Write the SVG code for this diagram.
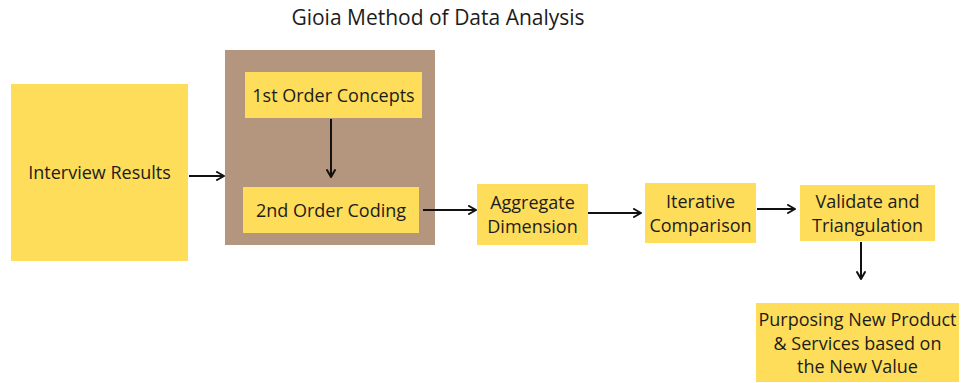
<svg xmlns="http://www.w3.org/2000/svg" width="961" height="383" viewBox="0 0 961 383">
  <defs>
    <marker id="arrow" viewBox="0 0 10 10" refX="9" refY="5" markerWidth="10" markerHeight="10" markerUnits="userSpaceOnUse" orient="auto">
      <path d="M2,1 L9,5 L2,9" fill="none" stroke="#111" stroke-width="2" stroke-linecap="round" stroke-linejoin="round"/>
    </marker>
  </defs>
  <style>
    .box { fill: #fedd5a; }
    .group { fill: #b3967d; }
    .label { font-family: "Open Sans", "Liberation Sans", sans-serif; font-size: 18px; fill: #1c1c1c; text-anchor: middle; }
    .title { font-family: "Open Sans", "Liberation Sans", sans-serif; font-size: 21px; fill: #1c1c1c; text-anchor: middle; }
    .edge { stroke: #111; stroke-width: 2; fill: none; marker-end: url(#arrow); }
  </style>
  <rect width="961" height="383" fill="#ffffff"/>

  <text class="title" x="438" y="25">Gioia Method of Data Analysis</text>

  <g id="interview-results">
    <rect class="box" x="11" y="84" width="177" height="177"/>
    <text class="label" x="99.5" y="179">Interview Results</text>
  </g>

  <g id="coding-group">
    <rect class="group" x="225" y="50" width="210" height="195"/>
  </g>

  <g id="first-order">
    <rect class="box" x="245" y="72" width="177" height="46"/>
    <text class="label" x="333.5" y="102">1st Order Concepts</text>
  </g>

  <g id="second-order">
    <rect class="box" x="243" y="187" width="176" height="46"/>
    <text class="label" x="331" y="217">2nd Order Coding</text>
  </g>

  <g id="aggregate">
    <rect class="box" x="477" y="184" width="111" height="61"/>
    <text class="label" x="532.5" y="209">Aggregate</text>
    <text class="label" x="532.5" y="233">Dimension</text>
  </g>

  <g id="iterative">
    <rect class="box" x="645" y="183" width="111" height="60"/>
    <text class="label" x="700.5" y="208">Iterative</text>
    <text class="label" x="700.5" y="232">Comparison</text>
  </g>

  <g id="validate">
    <rect class="box" x="800" y="185" width="135" height="56"/>
    <text class="label" x="867.5" y="208">Validate and</text>
    <text class="label" x="867.5" y="232">Triangulation</text>
  </g>

  <g id="purposing">
    <rect class="box" x="756" y="303" width="203" height="79"/>
    <text class="label" x="857.5" y="326">Purposing New Product</text>
    <text class="label" x="857.5" y="350">&amp; Services based on</text>
    <text class="label" x="857.5" y="373">the New Value</text>
  </g>

  <g id="connectors">
    <line class="edge" x1="189" y1="176" x2="224" y2="176"/>
    <line class="edge" x1="331" y1="119" x2="331" y2="177"/>
    <line class="edge" x1="423" y1="210" x2="476" y2="210"/>
    <line class="edge" x1="588" y1="213" x2="641" y2="213"/>
    <line class="edge" x1="757" y1="209" x2="795" y2="209"/>
    <line class="edge" x1="861" y1="242" x2="861" y2="279"/>
  </g>
</svg>
